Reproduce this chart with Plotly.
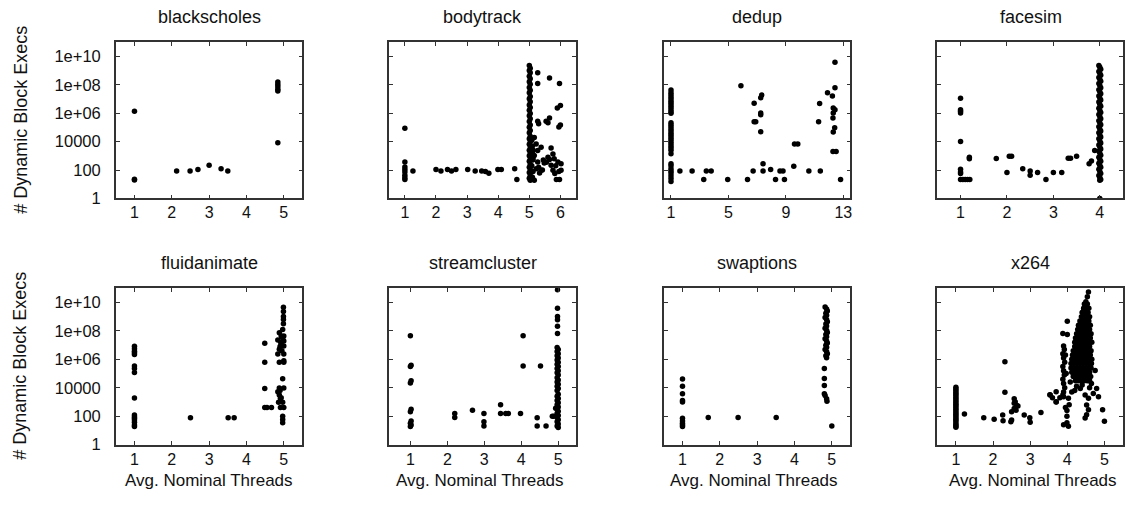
import plotly.graph_objects as go

# ---------------- data (x = avg. nominal threads, e = log10 of dynamic block execs) ----------------
panel_names = ["blackscholes", "bodytrack", "dedup", "facesim",
               "fluidanimate", "streamcluster", "swaptions", "x264"]

y_tick_values = [1, 100, 1e4, 1e6, 1e8, 1e10]
y_tick_labels = ["1", "100", "10000", "1e+06", "1e+08", "1e+10"]

blackscholes_x = [1.0, 1.0, 1.0, 2.13, 2.49, 2.70, 3.0, 3.32, 3.5, 4.84, 4.84, 4.84, 4.84, 4.84, 4.84]
blackscholes_e = [1.30, 1.36, 6.14, 1.94, 1.94, 2.03, 2.33, 2.10, 1.94, 8.20, 8.03, 7.87, 7.70, 7.57, 3.92]

bodytrack_x = [1, 1, 1, 1, 1, 1, 1, 1,
               1.26, 2.0, 2.16, 2.37, 2.5, 2.64, 3.02, 3.26, 3.47, 3.59, 3.70, 3.99, 4.1, 4.53, 4.6,
               5.0, 5.03, 5.0, 5.03, 5.0, 5.03, 5.0, 5.03, 5.0, 5.03, 5.0, 5.03, 5.0, 5.03,
               5.0, 5.03, 5.0, 5.03, 5.0, 5.03, 5.0, 5.03, 5.0, 5.03, 5.0, 5.03, 5.0, 5.03,
               5.0, 5.03, 5.0, 5.03, 5.0, 5.03, 5.0, 5.03, 5.0, 5.03, 5.0, 5.03, 5.0, 5.03,
               5.08, 5.1, 5.12, 5.09, 5.11, 5.08, 5.12, 5.1,
               5.27, 5.65, 5.27, 5.97, 5.9, 6.0, 5.65, 5.54, 5.3, 5.27, 5.6, 5.95, 6.0,
               5.16, 5.22, 5.27, 5.16, 5.38, 5.7, 5.76, 5.8, 5.27, 5.48, 5.6, 5.7, 5.92, 6.02,
               5.22, 5.38, 5.33, 5.76, 5.82, 6.02, 5.97, 5.87, 5.16, 5.05,
               5.45, 5.55, 5.65, 5.85, 5.95, 5.1, 5.12, 5.3, 5.42]
bodytrack_e = [4.94, 2.56, 2.21, 2.03, 1.87, 1.64, 1.34, 1.45,
               1.94, 2.03, 1.94, 2.03, 1.94, 2.03, 2.03, 1.94, 1.94, 1.90, 1.78, 2.03, 2.03, 2.10, 1.34,
               9.36, 9.18, 9.02, 8.85, 8.61, 8.43, 8.22, 8.05, 7.81, 7.62, 7.44, 7.19, 7.03, 6.82,
               6.58, 6.41, 6.22, 5.98, 5.83, 5.61, 5.42, 5.18, 5.01, 4.79, 4.62, 4.38, 4.21, 4.02,
               3.81, 3.63, 3.39, 3.22, 3.01, 2.78, 2.62, 2.41, 2.19, 2.03, 1.82, 1.61, 1.42, 1.29,
               4.1, 3.7, 3.4, 3.0, 2.7, 2.3, 1.9, 1.5,
               8.86, 8.49, 8.10, 8.10, 6.37, 6.55, 5.67, 5.44, 5.26, 5.44, 5.33, 5.03, 5.17,
               4.29, 3.83, 3.37, 3.03, 3.60, 3.55, 3.13, 2.79, 2.56, 2.49, 2.90, 2.33, 2.56, 2.44,
               2.10, 1.98, 1.80, 1.98, 1.75, 1.98, 1.34, 1.34, 1.29, 1.34,
               2.70, 2.55, 2.75, 2.30, 1.90, 3.30, 2.80, 2.20, 2.00]

dedup_x = [1.0] * 35 + [
    1.62, 2.47, 3.28, 3.46, 3.8, 4.95, 5.87, 6.33, 6.72, 6.79, 6.79, 6.9,
    7.32, 7.25, 7.25, 7.25, 7.25, 7.41, 7.41, 7.94, 8.28, 8.59, 8.8, 8.9,
    9.55, 9.6, 9.83, 10.6, 11.4, 11.35, 11.28, 11.9, 12.24, 12.42, 12.42,
    12.3, 12.3, 12.42, 12.28, 12.4, 12.3, 12.28, 12.5, 12.81]
dedup_e = [7.64, 7.45, 7.30, 7.15, 7.00, 6.85, 6.70, 6.55, 6.40, 6.25, 6.10, 6.00,
           5.33, 5.20, 5.05, 4.90, 4.75, 4.60, 4.45, 4.30, 4.15, 4.00, 3.85, 3.70, 3.55, 3.40, 3.14,
           2.45, 2.30, 2.10, 1.94, 1.80, 1.60, 1.40, 1.20,
           1.94, 1.94, 1.34, 1.94, 1.94, 1.34, 7.94, 1.34, 1.94, 6.71, 5.40, 5.40,
           7.29, 7.10, 6.02, 5.90, 4.70, 2.45, 1.94, 2.03, 1.34, 1.94, 1.94, 1.34,
           2.26, 3.83, 3.83, 1.94, 1.94, 6.69, 5.40, 7.45, 7.22, 9.60, 7.80,
           6.37, 6.02, 6.25, 5.67, 4.98, 4.68, 3.30, 3.30, 1.34]

facesim_x = [1, 1, 1, 1, 1, 1, 1, 1, 1, 1.05, 1.1, 1.15, 1.2, 1.19, 1.19,
             1.77, 2.0, 2.05, 2.1, 2.34, 2.5, 2.5, 2.66, 2.84, 3.0, 3.18, 3.32, 3.37, 3.5,
             3.77, 3.82, 3.89, 4.0] + [3.98, 4.0, 4.02] * 19 + [4.0]
facesim_e = [7.06, 6.25, 6.14, 6.02, 4.01, 2.05, 1.87, 1.75, 1.34, 1.34, 1.34, 1.34, 1.34, 2.90, 2.80,
             2.81, 1.82, 2.98, 2.98, 2.10, 1.94, 1.64, 1.82, 1.34, 1.82, 1.82, 2.84, 2.84, 2.98,
             2.45, 2.63, 3.37, 0.0,
             9.37, 9.25, 9.10, 8.95, 8.82, 8.68, 8.52, 8.40, 8.25, 8.10, 7.96, 7.80, 7.66, 7.52,
             7.38, 7.22, 7.08, 6.94, 6.80, 6.64, 6.50, 6.35, 6.20, 6.06, 5.92, 5.78, 5.62, 5.48,
             5.33, 5.20, 5.05, 4.90, 4.76, 4.62, 4.48, 4.33, 4.20, 4.05, 3.90, 3.76, 3.62, 3.48,
             3.33, 3.20, 3.05, 2.90, 2.76, 2.62, 2.48, 2.33, 2.20, 2.05, 1.90, 1.76, 1.62, 1.48,
             1.34, 1.29]

fluidanimate_x = [1.0] * 16 + [
    2.5, 3.51, 3.67, 4.49, 4.49, 4.49, 4.49, 4.55, 4.67,
    4.99, 4.99, 4.99, 4.99, 4.97, 4.88, 4.93, 5.0, 4.84, 5.0, 4.93, 5.0, 4.88, 4.84, 5.0,
    4.88, 5.0, 4.97, 4.88, 5.0, 4.84, 4.88, 4.91, 4.86, 4.97, 5.0, 4.91, 4.97, 4.97, 4.97,
    4.99, 4.97, 4.92, 4.95, 4.9, 5.0, 4.9, 4.93]
fluidanimate_e = [6.92, 6.74, 6.57, 6.46, 6.34, 5.54, 5.35, 5.07, 3.28, 2.08, 1.96, 1.85, 1.73, 1.57, 1.38, 1.27,
                  1.89, 1.89, 1.89, 7.13, 5.79, 3.94, 2.61, 2.61, 2.61,
                  9.67, 9.37, 9.02, 8.51, 8.10, 7.87, 7.64, 7.64, 7.36, 7.29, 7.06, 6.95, 6.72, 6.38, 6.38,
                  5.79, 5.79, 4.64, 3.99, 3.99, 3.71, 3.49, 3.26, 2.98, 2.98, 2.61, 2.61, 1.99, 1.76, 1.53,
                  8.80, 7.50, 7.20, 6.60, 6.90, 5.90, 3.80, 3.30]

streamcluster_x = [1.0, 1.02, 1.0, 1.02, 1.0, 1.02, 1.0, 1.02, 1.0, 1.02, 1.0,
                   2.2, 2.2, 2.68, 2.99, 2.99, 2.99, 3.44, 3.44, 3.58, 3.65, 3.98, 4.05, 4.05, 4.52,
                   4.43, 4.43, 4.67, 4.88, 4.84, 4.93,
                   4.98, 4.98, 4.98, 4.98, 4.98, 4.98] + [4.97, 5.0] * 19
streamcluster_e = [7.66, 5.59, 5.49, 4.50, 4.34, 2.49, 2.31, 1.66, 1.50, 1.38, 1.27,
                   2.19, 1.91, 2.42, 2.19, 1.61, 1.31, 2.81, 2.19, 2.19, 2.19, 2.19, 7.66, 5.54, 5.54,
                   1.89, 1.31, 1.31, 1.99, 1.99, 2.56,
                   10.91, 9.60, 9.02, 8.79, 8.33, 7.82,
                   6.83, 6.70, 6.55, 6.40, 6.25, 6.10, 5.95, 5.80, 5.65, 5.50, 5.35, 5.20, 5.05,
                   4.90, 4.70, 4.55, 4.40, 4.25, 4.10, 3.95, 3.80, 3.55, 3.40, 3.25, 3.10, 2.95,
                   2.80, 2.65, 2.50, 2.35, 2.20, 2.05, 1.90, 1.75, 1.60, 1.45, 1.30, 1.20]

swaptions_x = [1.0] * 10 + [1.69, 2.49, 3.51, 5.0] + [4.82, 4.86, 4.88, 4.84, 4.86] * 5 + \
              [4.8, 4.8, 4.8, 4.8, 4.82, 4.86, 4.87]
swaptions_e = [4.61, 4.11, 3.58, 3.11, 3.00, 1.85, 1.66, 1.50, 1.38, 1.27,
               1.91, 1.91, 1.91, 1.31,
               9.69, 9.55, 9.40, 9.25, 9.10, 8.95, 8.80, 8.65, 8.50, 8.35, 8.20, 8.05, 7.90,
               7.75, 7.60, 7.45, 7.30, 7.15, 7.00, 6.85, 6.70, 6.55, 6.40, 6.25, 6.11,
               5.35, 4.66, 4.15, 3.58, 3.46, 3.23, 3.05]

x264_x = [1.0] * 25 + [
    1.23, 1.75, 2.03, 2.26, 2.27, 2.32, 2.32, 2.48, 2.57, 2.57, 2.57, 2.6, 2.64, 2.5, 2.62, 2.67,
    2.5, 2.84, 2.99, 3.0, 3.29, 3.7, 3.53,
    4.57, 4.54, 4.5, 4.48, 4.43, 4.48, 4.0, 3.88, 4.0,
    3.9, 3.92, 3.88, 3.9, 3.93, 3.88, 3.9, 3.92, 3.88, 3.9, 3.93, 3.9, 3.88, 3.95, 3.97,
    4.46, 4.54,
    4.44, 4.52, 4.58,
    4.40, 4.48, 4.56,
    4.38, 4.46, 4.52, 4.60,
    4.34, 4.42, 4.50, 4.58,
    4.30, 4.38, 4.46, 4.54, 4.62,
    4.28, 4.36, 4.44, 4.52, 4.60,
    4.25, 4.33, 4.41, 4.49, 4.57, 4.64,
    4.22, 4.30, 4.38, 4.46, 4.54, 4.62,
    4.20, 4.28, 4.36, 4.44, 4.52, 4.60, 4.66,
    4.20, 4.28, 4.36, 4.44, 4.52, 4.60,
    4.16, 4.24, 4.32, 4.40, 4.48, 4.56, 4.64,
    4.14, 4.22, 4.30, 4.38, 4.46, 4.54, 4.62,
    4.12, 4.20, 4.28, 4.36, 4.44, 4.52, 4.60, 4.66,
    4.10, 4.18, 4.26, 4.34, 4.42, 4.50, 4.58, 4.65,
    4.10, 4.18, 4.26, 4.34, 4.42, 4.50, 4.58, 4.64,
    4.12, 4.20, 4.28, 4.36, 4.44, 4.52, 4.60,
    4.16, 4.24, 4.32, 4.40, 4.48, 4.56, 4.63,
    4.22, 4.30, 4.38, 4.46, 4.54, 4.60,
    3.54, 3.7, 3.7, 3.9, 4.03, 4.12, 4.2, 4.35, 4.48, 4.57, 4.7, 4.79, 4.84, 4.25, 4.4, 4.6,
    4.65, 3.8, 3.6, 3.99, 3.99, 3.99, 3.9, 4.03, 4.52, 4.57, 4.52, 4.48, 4.95, 5.0, 4.75,
    4.24, 4.08, 4.05, 3.95]
x264_e = [4.04, 3.91, 3.80, 3.67, 3.56, 3.45, 3.31, 3.20, 3.09, 2.96, 2.84, 2.73, 2.60,
          2.48, 2.37, 2.24, 2.12, 2.01, 1.88, 1.76, 1.65, 1.52, 1.40, 1.30, 1.22,
          2.15, 1.89, 1.78, 2.08, 1.68, 5.84, 3.69, 1.61, 3.23, 2.90, 2.54, 3.00, 2.75, 2.31, 2.42, 2.72,
          1.73, 2.08, 1.89, 1.57, 2.26, 3.00, 3.50,
          10.75, 10.41, 10.06, 9.71, 9.37, 9.02, 8.68, 7.82, 7.75,
          6.95, 6.70, 6.40, 6.10, 5.80, 5.50, 5.20, 4.90, 4.60, 4.30, 4.00, 3.70, 3.49, 6.30, 5.00,
          9.9, 9.9,
          9.6, 9.6, 9.6,
          9.3, 9.3, 9.3,
          9.0, 9.0, 9.0, 9.0,
          8.7, 8.7, 8.7, 8.7,
          8.4, 8.4, 8.4, 8.4, 8.4,
          8.1, 8.1, 8.1, 8.1, 8.1,
          7.8, 7.8, 7.8, 7.8, 7.8, 7.8,
          7.5, 7.5, 7.5, 7.5, 7.5, 7.5,
          7.2, 7.2, 7.2, 7.2, 7.2, 7.2, 7.2,
          6.9, 6.9, 6.9, 6.9, 6.9, 6.9,
          6.6, 6.6, 6.6, 6.6, 6.6, 6.6, 6.6,
          6.3, 6.3, 6.3, 6.3, 6.3, 6.3, 6.3,
          6.0, 6.0, 6.0, 6.0, 6.0, 6.0, 6.0, 6.0,
          5.7, 5.7, 5.7, 5.7, 5.7, 5.7, 5.7, 5.7,
          5.4, 5.4, 5.4, 5.4, 5.4, 5.4, 5.4, 5.4,
          5.1, 5.1, 5.1, 5.1, 5.1, 5.1, 5.1,
          4.8, 4.8, 4.8, 4.8, 4.8, 4.8, 4.8,
          4.5, 4.5, 4.5, 4.5, 4.5, 4.5,
          3.49, 3.02, 3.72, 3.37, 3.26, 3.70, 3.80, 3.95, 3.49, 3.26, 3.60, 3.95, 3.37, 4.10, 4.20, 4.00,
          4.30, 3.30, 3.30, 2.39, 1.99, 1.53, 1.40, 1.29, 2.79, 2.45, 2.10, 1.87, 2.45, 1.64, 5.22,
          6.07, 4.40, 2.80, 2.60]

panel_x = [blackscholes_x, bodytrack_x, dedup_x, facesim_x,
           fluidanimate_x, streamcluster_x, swaptions_x, x264_x]
panel_e = [blackscholes_e, bodytrack_e, dedup_e, facesim_e,
           fluidanimate_e, streamcluster_e, swaptions_e, x264_e]

x_ranges = [[0.5, 5.5], [0.5, 6.5], [0.5, 13.5], [0.5, 4.5],
            [0.5, 5.5], [0.43, 5.48], [0.5, 5.5], [0.5, 5.5]]
x_tick_values = [[1, 2, 3, 4, 5], [1, 2, 3, 4, 5, 6], [1, 5, 9, 13], [1, 2, 3, 4],
                 [1, 2, 3, 4, 5], [1, 2, 3, 4, 5], [1, 2, 3, 4, 5], [1, 2, 3, 4, 5]]

# ---------------- layout geometry (pixels) ----------------
W, H = 1125, 510
col_left = [116, 390, 665, 939]
col_width = 187
row_top = [42.5, 293]
row_height = 159.5
x_title_center = [209.5, 481, 755.5, 1035]
x_label_standoff = [-1, 0]

FONT = "Liberation Sans, Arial, Helvetica, sans-serif"
TXT = "#111111"
AX = "#333333"

fig = go.Figure()
annotations = []

for i, name in enumerate(panel_names):
    r, c = divmod(i, 4)
    n = i + 1
    xa = "x" if n == 1 else f"x{n}"
    ya = "y" if n == 1 else f"y{n}"
    yvals = [10 ** v for v in panel_e[i]]
    fig.add_trace(go.Scatter(
        x=panel_x[i], y=yvals, mode="markers", xaxis=xa, yaxis=ya,
        marker=dict(color="black", size=5.5, line=dict(width=0)),
        showlegend=False, hoverinfo="skip"))

    x0 = col_left[c] / W
    x1 = min((col_left[c] + col_width) / W, 1.0)
    y1 = 1 - row_top[r] / H
    y0 = 1 - (row_top[r] + row_height) / H

    xkey = "xaxis" if n == 1 else f"xaxis{n}"
    ykey = "yaxis" if n == 1 else f"yaxis{n}"
    fig.update_layout(**{
        xkey: dict(domain=[x0, x1], anchor=ya, range=x_ranges[i],
                   tickmode="array", tickvals=x_tick_values[i],
                   ticks="inside", ticklen=4, tickwidth=1, tickcolor=AX,
                   showline=True, linecolor=AX, linewidth=1.5, mirror="ticks",
                   showgrid=False, zeroline=False, ticklabelstandoff=x_label_standoff[r],
                   tickfont=dict(family=FONT, size=16, color=TXT)),
        ykey: dict(domain=[y0, y1], anchor=xa, type="log", range=[0, 11.04],
                   tickmode="array", tickvals=y_tick_values, ticktext=y_tick_labels,
                   showticklabels=(c == 0),
                   ticks="inside", ticklen=4, tickwidth=1, tickcolor=AX,
                   showline=True, linecolor=AX, linewidth=1.5, mirror="ticks",
                   showgrid=False, zeroline=False, ticklabelstandoff=10,
                   tickfont=dict(family=FONT, size=16.5, color=TXT)),
    })

    # panel title
    annotations.append(dict(text=name, xref="paper", yref="paper",
                            x=(col_left[c] + col_width / 2) / W,
                            y=1 - (row_top[r] - 25.5) / H,
                            xanchor="center", yanchor="middle", showarrow=False,
                            font=dict(family=FONT, size=18, color=TXT)))
    if r == 1:
        annotations.append(dict(text="Avg. Nominal Threads", xref="paper", yref="paper",
                                x=x_title_center[c] / W, y=1 - 489 / H,
                                xanchor="center", yanchor="middle", showarrow=False,
                                font=dict(family=FONT, size=17, color=TXT)))
    if c == 0:
        annotations.append(dict(text="# Dynamic Block Execs", xref="paper", yref="paper",
                                x=20.7 / W, y=1 - (row_top[r] + row_height / 2) / H,
                                xanchor="center", yanchor="middle", textangle=-90,
                                showarrow=False,
                                font=dict(family=FONT, size=18, color=TXT)))

fig.update_layout(width=W, height=H, margin=dict(l=0, r=0, t=0, b=0),
                  paper_bgcolor="white", plot_bgcolor="white",
                  annotations=annotations)

fig.write_html("out.html", config={"displayModeBar": False},
               post_script="document.body.style.margin='0px';")
